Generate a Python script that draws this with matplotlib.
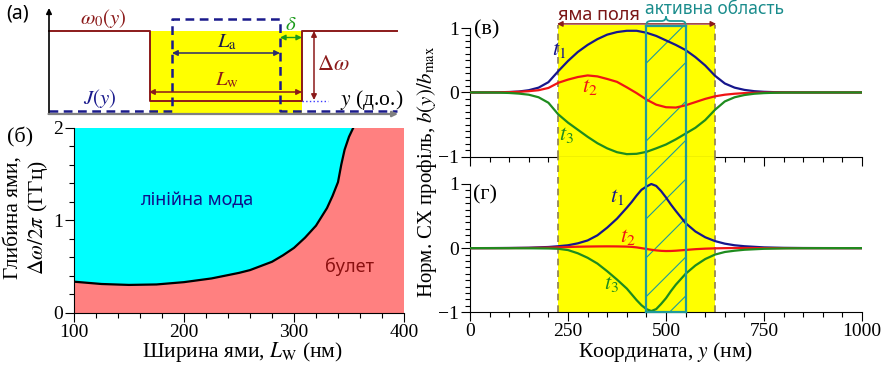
import numpy as np
import matplotlib
matplotlib.use("Agg")
import matplotlib.pyplot as plt
from matplotlib.patches import Rectangle, PathPatch
from matplotlib.path import Path
from matplotlib.lines import Line2D
from matplotlib.ticker import MultipleLocator, FixedLocator
from matplotlib.transforms import IdentityTransform

plt.rcParams["font.family"] = ["Liberation Serif", "DejaVu Serif"]
plt.rcParams["mathtext.fontset"] = "stix"
SANS = ["Noto Sans", "DejaVu Sans"]

# ---------------- data ----------------
# phase boundary: linear mode / bullet
boundary_width = [100, 125, 150, 175, 200, 225, 250, 260, 270, 280, 290, 300,
                  310, 320, 330, 335, 340, 343, 346, 350, 354]
boundary_depth = [0.335, 0.31, 0.30, 0.305, 0.33, 0.37, 0.43, 0.46, 0.505,
                  0.55, 0.62, 0.70, 0.81, 0.94, 1.13, 1.26, 1.41, 1.60, 1.76,
                  1.90, 2.0]

# field well and active region (nm)
well_left, well_right = 225, 625
active_left, active_right = 450, 550

# normalized profiles, linear regime
y_lin = [0, 25, 50, 75, 100, 125, 150, 175, 200, 225, 250, 275, 300, 325,
         350, 375, 400, 425, 450, 475, 500, 525, 550, 575, 600, 625, 650,
         675, 700, 725, 750, 775, 800, 850, 900, 1000]
t1_lin = [0, 0, 0.001, 0.003, 0.007, 0.015, 0.035, 0.075, 0.16, 0.33, 0.49,
          0.63, 0.74, 0.83, 0.90, 0.94, 0.96, 0.96, 0.93, 0.88, 0.81, 0.74,
          0.66, 0.55, 0.42, 0.26, 0.14, 0.075, 0.04, 0.02, 0.01, 0.005,
          0.003, 0.001, 0, 0]
t2_lin = [0, 0, 0.001, 0.002, 0.005, 0.01, 0.02, 0.035, 0.07, 0.15, 0.20,
          0.24, 0.265, 0.25, 0.21, 0.165, 0.08, -0.01, -0.11, -0.19, -0.23,
          -0.235, -0.20, -0.15, -0.10, -0.06, -0.035, -0.02, -0.01, -0.005,
          -0.002, -0.001, 0, 0, 0, 0]
t3_lin = [0, 0, -0.001, -0.003, -0.008, -0.018, -0.035, -0.075, -0.16, -0.34,
          -0.47, -0.58, -0.69, -0.79, -0.87, -0.93, -0.96, -0.955, -0.925,
          -0.87, -0.81, -0.73, -0.64, -0.55, -0.43, -0.27, -0.14, -0.075,
          -0.04, -0.02, -0.01, -0.005, -0.002, -0.001, 0, 0]

# normalized profiles, bullet regime
y_bul = [0, 50, 100, 150, 200, 225, 250, 275, 300, 325, 350, 375, 400, 412.5,
         425, 437.5, 450, 462.5, 475, 487.5, 500, 512.5, 525, 550, 575, 600,
         625, 650, 675, 700, 750, 800, 850, 900, 1000]
t1_bul = [0, 0.001, 0.003, 0.007, 0.018, 0.03, 0.045, 0.075, 0.12, 0.20,
          0.32, 0.46, 0.63, 0.72, 0.82, 0.91, 0.96, 1.0, 0.97, 0.89, 0.79,
          0.68, 0.58, 0.39, 0.26, 0.17, 0.11, 0.07, 0.045, 0.03, 0.012,
          0.005, 0.002, 0.001, 0]
t2_bul = [0, 0, 0.001, 0.003, 0.008, 0.012, 0.018, 0.022, 0.025, 0.027,
          0.028, 0.027, 0.024, 0.02, 0.012, 0.0, -0.012, -0.025, -0.035,
          -0.042, -0.045, -0.044, -0.04, -0.028, -0.016, -0.008, -0.003, 0,
          0.002, 0.002, 0.001, 0, 0, 0, 0]
t3_bul = [0, 0, -0.001, -0.002, -0.005, -0.01, -0.03, -0.08, -0.15, -0.24,
          -0.36, -0.49, -0.63, -0.72, -0.81, -0.89, -0.95, -0.98, -0.95,
          -0.87, -0.78, -0.67, -0.57, -0.40, -0.27, -0.17, -0.10, -0.06,
          -0.04, -0.025, -0.01, -0.004, -0.001, 0, 0]

# ---------------- styles ----------------
C_T1, C_T2, C_T3 = "#16168c", "#f01414", "#1e8c1e"
C_DRED = "#8b1a1a"
C_NAVY = "#1a1a8c"
C_TEAL = "#1f9a9a"
C_YEL = "#ffff00"
C_EDGE = "#8c7d55"

W, H = 892, 366
fig = plt.figure(figsize=(W / 100, H / 100), dpi=100)


def px_axes(left, top, right, bottom):
    return fig.add_axes([left / W, 1 - bottom / H, (right - left) / W,
                         (bottom - top) / H])


def ftext(x, y, s, **kw):
    kw.setdefault("ha", "center")
    kw.setdefault("va", "center")
    return fig.text(x / W, 1 - y / H, s, **kw)


def style_ticks(ax):
    ax.tick_params(which="major", direction="out", length=6.5, width=0.8,
                   labelsize=14, pad=1.5)
    ax.tick_params(which="minor", direction="out", length=3.5, width=0.8)
    for side in ("top", "right"):
        ax.spines[side].set_visible(False)


# ---------------- (a) schematic ----------------
ax_a = px_axes(0, 0, 400, 120)
ax_a.set_xlim(0, 400)
ax_a.set_ylim(120, 0)
ax_a.axis("off")

ax0, ax_end, base = 49, 398, 114
top_w, bot_w = 31, 101
wl, wr = 150, 302
al, ar = 172, 280
j_top, j_bot = 19, 111.5

ax_a.add_patch(Rectangle((wl, top_w), wr - wl, base - top_w, color=C_YEL,
                         lw=0, zorder=0))
ax_a.plot([ax0, wl, wl, wr, wr, 397], [top_w, top_w, bot_w, bot_w, top_w, top_w],
          color=C_DRED, lw=1.4, zorder=3)
ax_a.plot([ax0, al, al, ar, ar, 397], [j_bot, j_bot, j_top, j_top, j_bot, j_bot],
          color=C_NAVY, lw=1.8, dashes=(3.5, 2.2), zorder=3)
ax_a.plot([wr, 328], [bot_w, bot_w], color="#3a3aff", lw=1, ls=":", zorder=3)

arrow_kw = dict(shrinkA=0, shrinkB=0, mutation_scale=8)
ax_a.annotate("", xy=(ax0, 8), xytext=(ax0, base),
              arrowprops=dict(arrowstyle="-|>", color="k", lw=1.2,
                              **arrow_kw))
ax_a.annotate("", xy=(ax_end, base), xytext=(ax0 - 0.5, base),
              arrowprops=dict(arrowstyle="-|>", color="#808080", lw=1.6,
                              **arrow_kw))
ax_a.annotate("", xy=(al, 53), xytext=(ar, 53),
              arrowprops=dict(arrowstyle="<|-|>", color="#2b2b6b", lw=1.1,
                              **arrow_kw))
ax_a.annotate("", xy=(wl - 1, 92), xytext=(wr, 92),
              arrowprops=dict(arrowstyle="<|-|>", color=C_DRED, lw=1.1,
                              **arrow_kw))
ax_a.annotate("", xy=(ar, 37.5), xytext=(wr, 37.5),
              arrowprops=dict(arrowstyle="<|-|>", color="#1a9a1a", lw=1.0,
                              **arrow_kw))
ax_a.annotate("", xy=(314, top_w), xytext=(314, bot_w - 1),
              arrowprops=dict(arrowstyle="<|-|>", color=C_DRED, lw=1.1,
                              **arrow_kw))

ax_a.text(103, 19, r"$\omega_0(y)$", color=C_DRED, fontsize=15, ha="center",
          va="center")
ax_a.text(100, 99, r"$J(y)$", color=C_NAVY, fontsize=15, ha="center",
          va="center")
ax_a.text(227, 42, r"$L_{\mathrm{a}}$", color="#1a1a4a", fontsize=15,
          ha="center", va="center")
ax_a.text(227, 80, r"$L_{\mathrm{w}}$", color=C_DRED, fontsize=15,
          ha="center", va="center")
ax_a.text(291, 26, r"$\delta$", color="#1a9a1a", fontsize=15, ha="center",
          va="center")
ax_a.text(333, 66, r"$\Delta\omega$", color=C_DRED, fontsize=16, ha="center",
          va="center")
ax_a.text(372, 100, r"$y$ (д.о.)", color="k", fontsize=15.5, ha="center",
          va="center")
ax_a.text(18, 14, "(a)", fontsize=14, ha="center", va="center", family=SANS)

# ---------------- (б) phase diagram ----------------
ax_b = px_axes(74, 127.5, 404, 312.7)
ax_b.set_facecolor("#ff8080")
ax_b.fill_between(boundary_width, boundary_depth, 2, color="#00ffff", lw=0)
ax_b.plot(boundary_width, boundary_depth, color="k", lw=1.6)
ax_b.set_xlim(100, 400)
ax_b.set_ylim(0, 2)
ax_b.set_xticks([100, 200, 300, 400])
ax_b.set_yticks([0, 1, 2])
ax_b.xaxis.set_minor_locator(MultipleLocator(20))
ax_b.yaxis.set_minor_locator(MultipleLocator(0.2))
style_ticks(ax_b)
ftext(197, 200, "лінійна мода", color="#10108a", fontsize=13, family=SANS)
ftext(350, 267, "булет", color="#8b1010", fontsize=13, family=SANS)
ftext(242, 352, r"Ширина ями, $L_{\mathrm{W}}$ (нм)", fontsize=15.5)
ftext(13, 218, "Глибина ями,", fontsize=15.5, rotation=90)
ftext(38, 218, r"$\Delta\omega/2\pi$ (ГГц)", fontsize=15.5, rotation=90)
ftext(20, 137, "(б)", fontsize=16)

# ---------------- (в), (г) profiles ----------------
ax_v = px_axes(470, 25, 862, 156.7)
ax_g = px_axes(470, 156.7, 862, 312.3)
ax_v.set_ylim(-1, 1.05)
ax_g.set_ylim(-1, 1 + (184 - 156.7) / 64.15)

panels = [(ax_v, y_lin, t1_lin, t2_lin, t3_lin, 1.036),
          (ax_g, y_bul, t1_bul, t2_bul, t3_bul, None)]
for ax, yy, a1, a2, a3, box_top in panels:
    ax.set_xlim(0, 1000)
    ax.axvspan(well_left, well_right, color=C_YEL, lw=0, zorder=0)
    for xe in (well_left, well_right):
        ax.axvline(xe, color=C_EDGE, lw=1.2, ls=(0, (4, 3)), zorder=1)
    ylo = -1
    yhi = box_top if box_top is not None else ax.get_ylim()[1]
    clip = Rectangle((active_left, ylo), active_right - active_left, yhi - ylo,
                     transform=ax.transData, fill=False, lw=0)
    ax.add_patch(clip)
    # hatch lines at 45 degrees in screen space
    xl = ax.transData.transform((active_left, 0))[0]
    xr = ax.transData.transform((active_right, 0))[0]
    for k in range(-3, 10):
        yd = H - (63 + 38.9 * k)
        ln = Line2D([xl - 60, xr + 60], [yd - 60, yd + (xr - xl) + 60],
                    transform=IdentityTransform(), color=C_TEAL, lw=0.8,
                    zorder=1.5)
        ax.add_line(ln)
        ln.set_clip_path(clip)
    for xe in (active_left, active_right):
        ax.plot([xe, xe], [ylo, yhi], color=C_TEAL, lw=1.6, zorder=4,
                clip_on=False)
    if box_top is not None:
        ax.plot([active_left, active_right], [box_top, box_top], color=C_TEAL,
                lw=1.6, zorder=4, clip_on=False)
    else:
        ax.plot([active_left, active_right], [-1, -1], color=C_TEAL, lw=1.6,
                zorder=4, clip_on=False)
    ax.plot(yy, a1, color=C_T1, lw=1.6, zorder=3)
    ax.plot(yy, a2, color=C_T2, lw=1.6, zorder=3)
    ax.plot(yy, a3, color=C_T3, lw=1.6, zorder=3)
    ax.set_yticks([-1, 0, 1])
    ax.set_yticklabels(["\u22121", "0", "1"])
    ax.yaxis.set_minor_locator(FixedLocator(np.arange(-1, 1.001, 0.1)))
    ax.set_xticks([0, 250, 500, 750, 1000])
    ax.xaxis.set_minor_locator(MultipleLocator(50))
    style_ticks(ax)
    ax.spines["left"].set_bounds(-1, 1)
    ax.patch.set_alpha(0)

ax_v.tick_params(labelbottom=False)

ax_v.text(228, 0.66, r"$t_1$", color=C_T1, fontsize=16, ha="center", va="center")
ax_v.text(306, 0.08, r"$t_2$", color=C_T2, fontsize=16, ha="center", va="center")
ax_v.text(245, -0.66, r"$t_3$", color=C_T3, fontsize=16, ha="center", va="center")
ax_g.text(375, 0.8, r"$t_1$", color=C_T1, fontsize=16, ha="center", va="center")
ax_g.text(403, 0.18, r"$t_2$", color=C_T2, fontsize=16, ha="center", va="center")
ax_g.text(360, -0.56, r"$t_3$", color=C_T3, fontsize=16, ha="center", va="center")

# field-well span arrow
ax_v.annotate("", xy=(well_left - 3, 1.067), xytext=(well_right + 3, 1.067),
              arrowprops=dict(arrowstyle="<|-|>", color=C_DRED, lw=1.0,
                              shrinkA=0, shrinkB=0, mutation_scale=8),
              annotation_clip=False)

# curly brace over the active region
xl = ax_v.transData.transform((active_left, 0))[0]
xr = ax_v.transData.transform((active_right, 0))[0]
xm = 0.5 * (xl + xr)
y0, y1, y2, r = H - 24.5, H - 21, H - 16.5, 4.5
verts = [(xl, y0), (xl, y1), (xl + r, y1), (xm - r, y1), (xm, y1), (xm, y2),
         (xm, y1), (xm + r, y1), (xr - r, y1), (xr, y1), (xr, y0)]
codes = [Path.MOVETO, Path.CURVE3, Path.CURVE3, Path.LINETO, Path.CURVE3,
         Path.CURVE3, Path.CURVE3, Path.CURVE3, Path.LINETO, Path.CURVE3,
         Path.CURVE3]
brace = PathPatch(Path(verts, codes), fill=False, edgecolor=C_TEAL, lw=1.3,
                  transform=IdentityTransform())
fig.add_artist(brace)

ftext(558, 15, "яма поля", color="#7a1515", fontsize=13, family=SANS, ha="left")
ftext(645, 8.5, "активна область", color="#1a8c8c", fontsize=12.5, family=SANS,
      ha="left")
ftext(487, 30, "(в)", fontsize=16)
ftext(485, 195, "(г)", fontsize=16)
ftext(427, 172, r"Норм. СХ профіль, $b(y)/b_{\mathrm{max}}$", fontsize=15,
      rotation=90)
ftext(666, 352, r"Координата, $y$ (нм)", fontsize=15.5)

fig.savefig("out.png", dpi=100)
